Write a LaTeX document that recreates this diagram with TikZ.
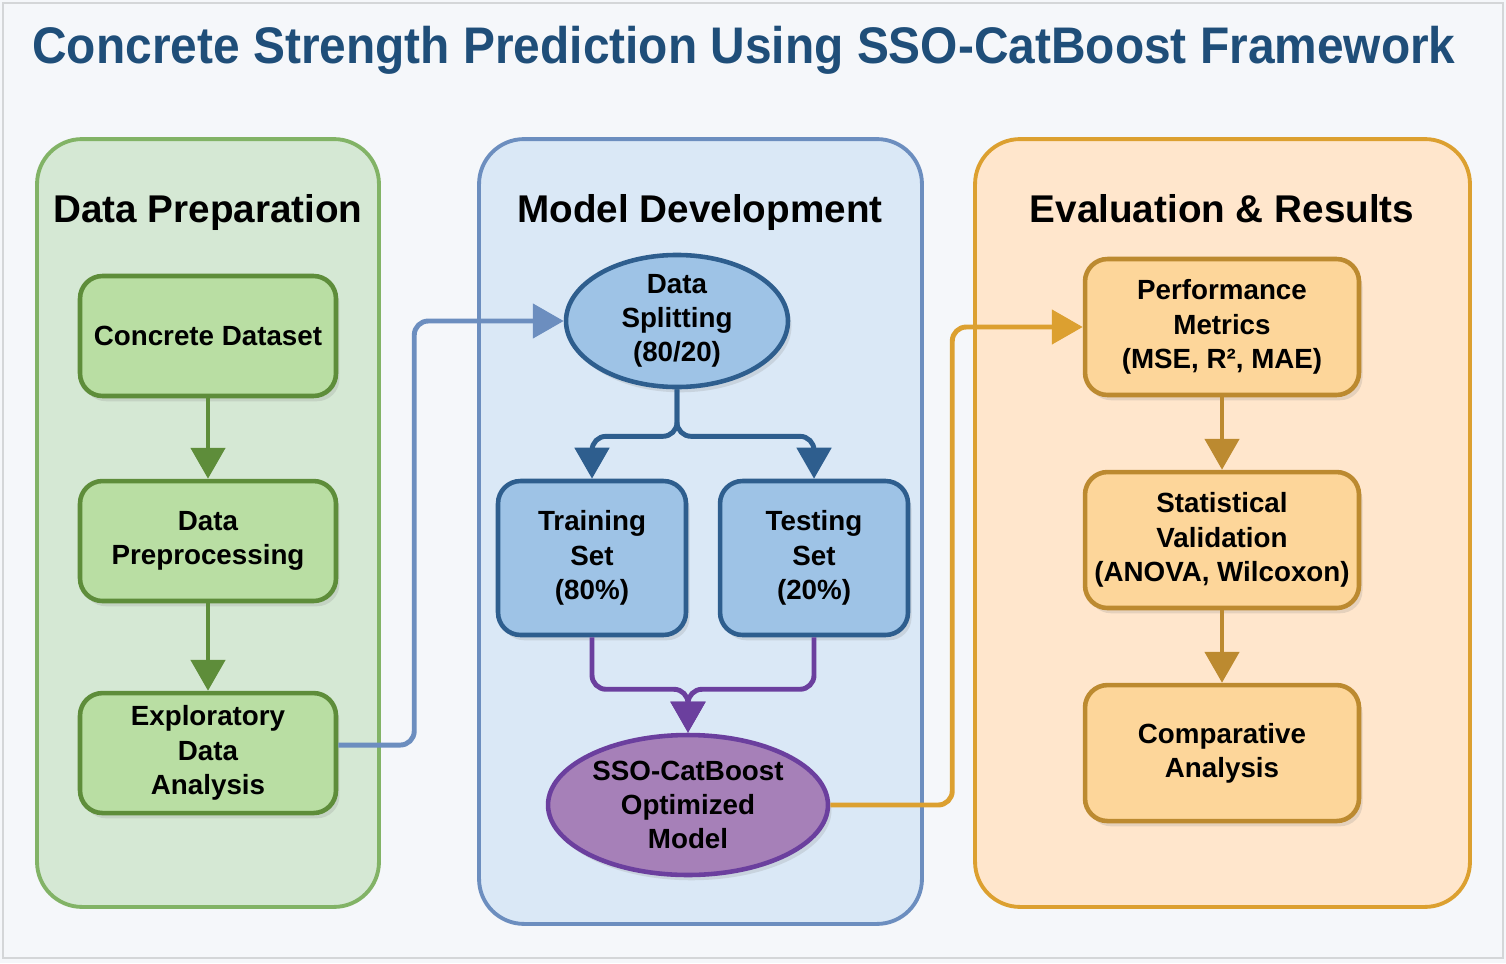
\documentclass[tikz,border=0pt]{standalone}
\usepackage{fontspec}
\setmainfont{Liberation Sans}
\usepackage{graphicx}
\usetikzlibrary{arrows.meta,shapes.geometric,shadows,positioning}

\definecolor{page-bg}{HTML}{F5F7FA}
\definecolor{frame-gray}{HTML}{D4D6D8}
\definecolor{title-blue}{HTML}{1F4E79}
\definecolor{prep-panel}{HTML}{D5E8D4}
\definecolor{prep-edge}{HTML}{82B366}
\definecolor{prep-fill}{HTML}{B9DEA3}
\definecolor{prep-line}{HTML}{5E8D3A}
\definecolor{dev-panel}{HTML}{DAE8F6}
\definecolor{dev-edge}{HTML}{6C8EBF}
\definecolor{dev-fill}{HTML}{9EC3E6}
\definecolor{dev-line}{HTML}{2E5E8E}
\definecolor{opt-fill}{HTML}{A680B8}
\definecolor{opt-line}{HTML}{6B3F9E}
\definecolor{eval-panel}{HTML}{FFE6CC}
\definecolor{eval-edge}{HTML}{DCA030}
\definecolor{eval-fill}{HTML}{FDD69A}
\definecolor{eval-line}{HTML}{BC8A30}

\tikzset{
    panel-box/.style = {rectangle, rounded corners=0.9cm, line width=2.2pt},
    panel-title/.style = {anchor=base, font=\fontsize{22}{26}\selectfont\bfseries},
    step-box/.style = {rectangle, rounded corners=0.45cm, line width=2.6pt, align=center, inner sep=0pt,
        font=\fontsize{15.8}{19.5}\selectfont\bfseries,
        drop shadow={shadow xshift=2pt, shadow yshift=-3pt, opacity=0.2}},
    step-oval/.style = {ellipse, line width=2.6pt, align=center, inner sep=0pt,
        font=\fontsize{15.8}{19.5}\selectfont\bfseries,
        drop shadow={shadow xshift=2pt, shadow yshift=-3pt, opacity=0.2}},
    prep-box/.style = {step-box, draw=prep-line, fill=prep-fill, minimum width=5.12cm, minimum height=2.4cm},
    dev-box/.style = {step-box, draw=dev-line, fill=dev-fill, minimum width=3.76cm, minimum height=3.08cm},
    eval-box/.style = {step-box, draw=eval-line, fill=eval-fill, minimum width=5.48cm, minimum height=2.72cm},
    link/.style = {line width=2.8pt, rounded corners=8pt, -{Triangle[width=0.68cm,length=0.62cm]}},
}

\begin{document}
\begin{tikzpicture}[x=0.02cm, y=-0.02cm]
\useasboundingbox (0,0) rectangle (1506,963);
\fill[page-bg] (0,0) rectangle (1506,963);
\draw[frame-gray, line width=0.8pt] (3,3) rectangle (1503,958);

\node[text=title-blue, font=\fontsize{29.3}{34}\selectfont\bfseries] (title) at (744,50)
    {\scalebox{0.93}[1]{Concrete Strength Prediction Using SSO-CatBoost Framework}};

\node[panel-box, draw=prep-edge, fill=prep-panel, minimum width=6.84cm, minimum height=15.36cm] (prep-panel) at (208,523) {};
\node[panel-box, draw=dev-edge, fill=dev-panel, minimum width=8.86cm, minimum height=15.7cm] (dev-panel) at (700.5,531.5) {};
\node[panel-box, draw=eval-edge, fill=eval-panel, minimum width=9.9cm, minimum height=15.36cm] (eval-panel) at (1222.5,523) {};

\node[panel-title] (prep-title) at (208,222) {Data Preparation};
\node[panel-title] (dev-title) at (700,222) {Model Development};
\node[panel-title] (eval-title) at (1222,222) {Evaluation \& Results};

\node[prep-box] (dataset) at (208,336) {Concrete Dataset};
\node[prep-box, below=1.61cm of dataset] (preproc) {Data\\Preprocessing};
\node[prep-box, below=1.75cm of preproc] (eda) {Exploratory\\Data\\Analysis};

\node[step-oval, draw=dev-line, fill=dev-fill, minimum width=4.44cm, minimum height=2.64cm] (split) at (677,321) {Data\\Splitting\\(80/20)};
\node[dev-box] (train) at (592,558) {Training\\Set\\(80\%)};
\node[dev-box, right=0.59cm of train] (test) {Testing\\Set\\(20\%)};
\node[step-oval, draw=opt-line, fill=opt-fill, minimum width=5.6cm, minimum height=2.8cm] (sso) at (688,805) {SSO-CatBoost\\Optimized\\Model};

\node[eval-box] (perf) at (1222,327) {Performance\\Metrics\\(MSE, R², MAE)};
\node[eval-box, below=1.45cm of perf] (stats) {Statistical\\Validation\\(ANOVA, Wilcoxon)};
\node[eval-box, below=1.45cm of stats] (compare) {Comparative\\Analysis};

\draw[link, prep-line] (dataset) -- (preproc);
\draw[link, prep-line] (preproc) -- (eda);

\draw[link, dev-edge] ([yshift=0.16cm]eda.east) -- ++(76,0) |- (split.west);

\draw[link, dev-line] (split.south) -- ++(0,47) -| (train.north);
\draw[link, dev-line] (split.south) -- ++(0,47) -| (test.north);

\draw[link, opt-line] (train.south) -- ++(0,52) -| (sso.north);
\draw[link, opt-line] (test.south) -- ++(0,52) -| (sso.north);

\draw[link, eval-edge] (sso.east) -- ++(122,0) |- (perf.west);

\draw[link, eval-line] (perf) -- (stats);
\draw[link, eval-line] (stats) -- (compare);
\end{tikzpicture}
\end{document}
